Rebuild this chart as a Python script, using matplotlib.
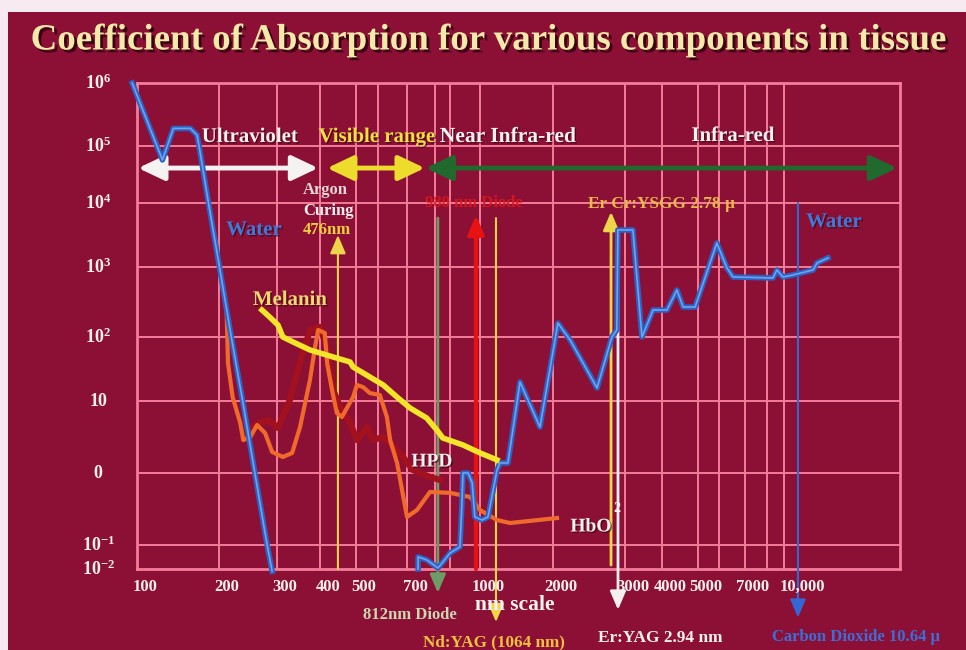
import numpy as np
import matplotlib
matplotlib.use("Agg")
from matplotlib import pyplot as plt
from matplotlib import patheffects as pe
from matplotlib.patches import Rectangle
from matplotlib.transforms import blended_transform_factory, ScaledTranslation

plt.rcParams['font.family'] = ['Liberation Serif', 'DejaVu Serif']
plt.rcParams['mathtext.fontset'] = 'custom'
plt.rcParams['mathtext.rm'] = 'Liberation Serif:bold'
plt.rcParams['mathtext.it'] = 'Liberation Serif:bold'
plt.rcParams['mathtext.bf'] = 'Liberation Serif:bold'

# ---- data (wavelength in nm, absorption coefficient) ----
WATER_UV_NM = [96, 124, 136, 157, 166, 169, 183, 200, 218, 236, 257, 280, 290]
WATER_UV_ABS = [1.0e6, 5.7e4, 1.9e5, 1.9e5, 1.5e5, 1.0e5, 1.0e4, 1.1e3, 100, 10, 1, 0.1, 0.008]

WATER_IR_NM = [738, 738, 769, 819, 900, 932, 938, 942, 959, 973,
               982, 1019, 1079, 1175, 1209, 1304, 1462, 1767, 2056, 2202,
               2563, 2787, 2865, 2882, 3190, 3423, 3731, 4124, 4387, 4560,
               4910, 5890, 6290, 6520, 8335, 8570, 8935, 9890, 12180, 12700,
               14220]
WATER_IR_ABS = [0.01, 0.032, 0.024, 0.011, 0.046, 0.083, 0.34, 1.0, 1.0, 0.73,
                0.245, 0.222, 0.245, 1.1, 1.38, 1.38, 19.8, 4.35, 158, 90,
                16.0, 100, 126, 3790, 3790, 100, 243, 243, 469, 268,
                268, 2370, 968, 720, 697, 906, 720, 769, 906, 1155,
                1384]

HBO2_NM = [208, 211, 213, 220, 232, 237, 249, 261, 276, 290,
           312, 332, 350, 374, 387, 395, 412, 418, 431, 444,
           458, 491, 504, 530, 561, 606, 629, 640, 664, 700,
           734, 781, 900, 966, 1000, 1175, 1330, 2046]
HBO2_ABS = [398, 220, 39, 11.5, 4.95, 2.87, 3.16, 4.64, 3.59, 1.96,
            1.67, 1.90, 4.35, 21.3, 69.8, 126, 114, 39, 14.9, 6.8,
            6.0, 11.5, 17.8, 16.5, 13.3, 12.4, 6.0, 2.87, 1.38, 0.245,
            0.306, 0.545, 0.53, 0.464, 0.306, 0.222, 0.202, 0.237]

HB_NM = [237, 257, 282, 302, 327, 350, 374, 400, 415, 434, 453,
         482, 504, 548, 576, 617, 640, 685, 720, 781, 832]
HB_ABS = [2.87, 4.64, 5.45, 4.22, 10.4, 40.7, 126, 139, 75, 14.9, 8.3,
          4.95, 2.87, 4.35, 2.87, 3.16, 2.61, 1.67, 1.10, 0.88, 0.80]

MELANIN_NM = [270, 285, 302, 312, 334, 374, 434, 482, 491, 561,
              617, 664, 710, 769, 812, 851, 942, 1000, 1175]
MELANIN_ABS = [243, 193, 148, 100, 83.6, 62.7, 48.7, 40.7, 34.0, 23.7,
               17.8, 11.5, 8.0, 5.8, 3.95, 3.06, 2.45, 1.90, 1.52]

# laser lines, where they are drawn on the chart
ARGON_NM = 447
DIODE812_NM = 818
DIODE_RED_NM = 986
NDYAG_NM = 1164
ERCR_NM = 2773
ERYAG_NM = 2884
CO2_NM = 10420

# band arrows (start nm, end nm)
UV_BAND = (101, 395)
VIS_BAND = (418, 762)
IR_BAND = (765, 29100)

XTICK_NM = [100, 200, 300, 400, 500, 700, 1000, 2000, 3000, 4000, 5000, 7000, 10000]
XTICK_LABELS = ['100', '200', '300', '400', '500', '700', '1000', '2000', '3000',
                '4000', '5000', '7000', '10,000']
YTICK_VAL = [1e-2, 1e-1, 1, 10, 1e2, 1e3, 1e4, 1e5, 1e6]
YTICK_LABELS = ['$10^{-2}$', '$10^{-1}$', '0', '10', '$10^{2}$', '$10^{3}$',
                '$10^{4}$', '$10^{5}$', '$10^{6}$']

GRID_NM = [200, 300, 400, 500, 600, 700, 800, 900, 1000, 2000, 3000,
           4000, 5000, 6000, 7000, 8000, 9000]
GRID_ABS = [1e-1, 1, 10, 1e2, 1e3, 1e4, 1e5]

# hand drawn axes: where each value sits (pixels from the plot's lower-left corner)
X_SCALE_NM = [100, 200, 300, 400, 500, 600, 700, 800, 900, 1000, 2000, 3000,
              4000, 5000, 6000, 7000, 8000, 9000, 10000, 30000]
X_SCALE_PX = [0, 82, 140, 183, 219, 241, 270, 298, 313, 343, 416, 488,
              525, 561, 582, 608, 630, 647, 657, 763]
Y_SCALE_VAL = [1e-2, 1e-1, 1, 10, 1e2, 1e3, 1e4, 1e5, 1e6]
Y_SCALE_PX = [0, 24, 96, 168, 232, 302, 366, 423, 486]

BG = '#8c1035'
GRID = '#f27d99'


def interp_ext(v, xp, fp):
    v = np.asarray(v, dtype=float)
    out = np.interp(v, xp, fp)
    lo = fp[0] + (v - xp[0]) * (fp[1] - fp[0]) / (xp[1] - xp[0])
    hi = fp[-1] + (v - xp[-1]) * (fp[-1] - fp[-2]) / (xp[-1] - xp[-2])
    out = np.where(v < xp[0], lo, out)
    out = np.where(v > xp[-1], hi, out)
    return out


def make_scale(vals, px):
    lv = np.log10(vals)
    p = np.asarray(px, dtype=float) / px[-1]

    def fwd(v):
        return interp_ext(np.log10(np.clip(v, 1e-300, None)), lv, p)

    def inv(q):
        return 10 ** interp_ext(q, p, lv)
    return fwd, inv


fig = plt.figure(figsize=(9.66, 6.5), dpi=100)
fig.patch.set_facecolor('#f7eaf0')
fig.add_artist(Rectangle((8 / 966, 0), 1, 1 - 12 / 650, transform=fig.transFigure,
                         facecolor=BG, edgecolor='none', zorder=0))

ax = fig.add_axes([137 / 966, 81 / 650, 763 / 966, 486 / 650])
ax.set_facecolor(BG)
ax.set_xscale('function', functions=make_scale(X_SCALE_NM, X_SCALE_PX))
ax.set_yscale('function', functions=make_scale(Y_SCALE_VAL, Y_SCALE_PX))
ax.set_xlim(100, 30000)
ax.set_ylim(1e-2, 1e6)
ax.set_xticks([])
ax.set_yticks([])
for s in ax.spines.values():
    s.set_color(GRID)
    s.set_linewidth(2)

for g in GRID_NM:
    ax.axvline(g, color=GRID, lw=1.4, zorder=1)
for g in GRID_ABS:
    ax.axhline(g, color=GRID, lw=1.4, zorder=1)


def vline_arrow(x, y_from, y_to, color, lw, ms=16):
    ax.annotate('', xy=(x, y_to), xycoords=('data', 'axes fraction'),
                xytext=(x, y_from), textcoords=('data', 'axes fraction'),
                arrowprops=dict(arrowstyle='-|>,head_length=0.7,head_width=0.3',
                                color=color, lw=lw, shrinkA=0, shrinkB=0,
                                mutation_scale=ms),
                annotation_clip=False, zorder=3)


vline_arrow(ARGON_NM, 0.0, 0.687, '#efd54a', 1.5)
vline_arrow(DIODE812_NM, 0.722, -0.049, '#6e9c66', 2.0)
vline_arrow(DIODE_RED_NM, 0.0, 0.728, '#e81212', 3.0)
vline_arrow(NDYAG_NM, 0.722, -0.109, '#efd54a', 1.5)
vline_arrow(ERCR_NM, 0.008, 0.735, '#efd54a', 2.0)
vline_arrow(ERYAG_NM, 0.677, -0.084, '#f4f0f0', 2.0)
vline_arrow(CO2_NM, 0.753, -0.10, '#3566d4', 1.5)


def band_arrow(x0, x1, color, lw=3.5):
    ax.annotate('', xy=(x1, 0.825), xycoords=('data', 'axes fraction'),
                xytext=(x0, 0.825), textcoords=('data', 'axes fraction'),
                arrowprops=dict(arrowstyle='<|-|>,head_length=0.8,head_width=0.38',
                                color=color, lw=lw, shrinkA=0, shrinkB=0,
                                mutation_scale=20),
                annotation_clip=False, zorder=3)


band_arrow(*UV_BAND, '#f6f2f2')
band_arrow(*VIS_BAND, '#eedc2c')
band_arrow(*IR_BAND, '#1f6a2c')

# curves
ax.plot(HB_NM, HB_ABS, color='#a3101e', lw=4.5, solid_joinstyle='round', zorder=4)
ax.plot(HBO2_NM, HBO2_ABS, color='#f06a2c', lw=3, solid_joinstyle='round', zorder=5)
for nm, ab in ((WATER_UV_NM, WATER_UV_ABS), (WATER_IR_NM, WATER_IR_ABS)):
    ax.plot(nm, ab, color='#2c62c6', lw=4, solid_joinstyle='round', zorder=6, clip_on=False)
    ax.plot(nm, ab, color='#6ea4ec', lw=1.2, solid_joinstyle='round', zorder=6, clip_on=False)
ax.plot(MELANIN_NM, MELANIN_ABS, color='#f3e52a', lw=4, solid_joinstyle='round', zorder=7)

# tick labels
off = ScaledTranslation(8 / 100, 0, fig.dpi_scale_trans)
tx = blended_transform_factory(ax.transData, ax.transAxes) + off
for nm, lab in zip(XTICK_NM, XTICK_LABELS):
    ax.text(nm, -0.037, lab, transform=tx, ha='center', va='center', color='#f8f0f0',
            fontsize=12, fontweight='bold', clip_on=False)
ty = blended_transform_factory(ax.transAxes, ax.transData)
for v, lab in zip(YTICK_VAL, YTICK_LABELS):
    ax.text(-0.051, v, lab, transform=ty, ha='center', va='center', color='#f8f0f0',
            fontsize=13, fontweight='bold', clip_on=False)


def ftext(px, py, s, color, size, ha='center', weight='bold', **kw):
    return fig.text(px / 966, 1 - py / 650, s, color=color, fontsize=size, ha=ha,
                    va='center', fontweight=weight, zorder=8, **kw)


shadow = [pe.SimplePatchShadow(offset=(2, -2), shadow_rgbFace='#250008', alpha=0.8), pe.Normal()]
soft = [pe.SimplePatchShadow(offset=(1, -1), shadow_rgbFace='#300010', alpha=0.6), pe.Normal()]

ftext(487, 40, 'Coefficient of Absorption for various components in tissue', '#f3eaa9', 26.6,
      path_effects=shadow)

ftext(250, 137, 'Ultraviolet', '#f6f2f2', 15, path_effects=soft)
ftext(377, 137, 'Visible range', '#f0e040', 15, path_effects=soft)
ftext(508, 137, 'Near Infra-red', '#f6f2f2', 15.5, path_effects=soft)
ftext(733, 136, 'Infra-red', '#f6f2f2', 15, path_effects=soft)

ftext(303, 190, 'Argon', '#e6d6d6', 12, ha='left')
ftext(303, 211, 'Curing', '#f4eeee', 12, ha='left')
ftext(303, 230, '476nm', '#f0d040', 12, ha='left')

ftext(254, 230, 'Water', '#3c7ad8', 15, path_effects=soft)
ftext(834, 222, 'Water', '#3c7ad8', 15, path_effects=soft)
ftext(290, 300, 'Melanin', '#f0d870', 15, path_effects=soft)
ftext(474, 203, '980 nm Diode', '#e01818', 12, alpha=0.85)
ftext(662, 204, 'Er Cr:YSGG 2.78 \u00b5', '#e8b848', 12.4)
ftext(432, 462, 'HPD', '#f6f2f2', 14, path_effects=soft)
ftext(591, 527, 'HbO', '#f6f2f2', 14, path_effects=soft)
ftext(617, 508, '2', '#f6f2f2', 10)

ftext(410, 615, '812nm Diode', '#c8d8b0', 12)
ftext(515, 605, 'nm scale', '#f6f2f2', 15.5)
ftext(494, 642, 'Nd:YAG (1064 nm)', '#f0c040', 12.3)
ftext(660, 638, 'Er:YAG 2.94 nm', '#f6f2f2', 12.4)
ftext(856, 637, 'Carbon Dioxide 10.64 \u00b5', '#3a6ed8', 12)

fig.savefig('out.png', dpi=100, facecolor=fig.get_facecolor())
